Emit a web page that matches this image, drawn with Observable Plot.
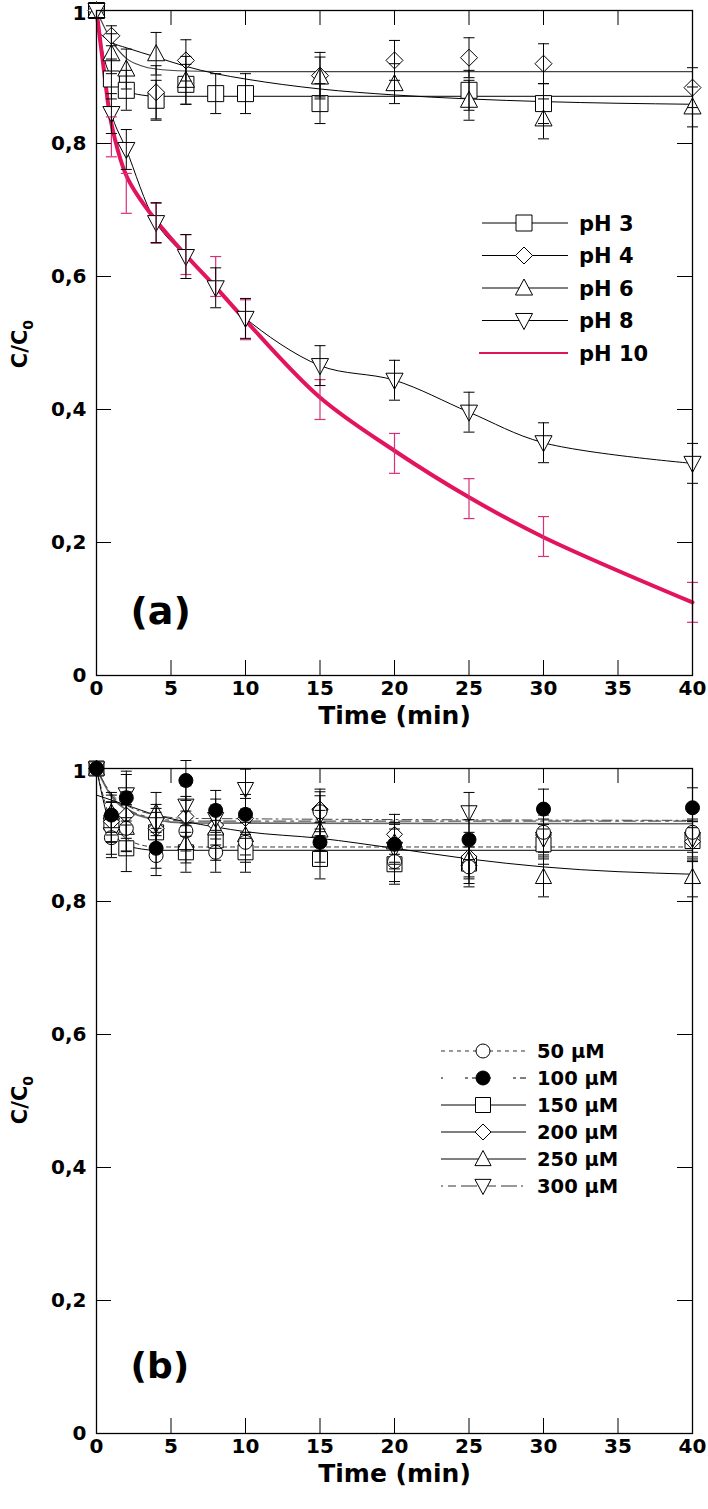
<!DOCTYPE html>
<html><head><meta charset="utf-8">
<script src="https://cdn.jsdelivr.net/npm/d3@7"></script>
<script src="https://cdn.jsdelivr.net/npm/@observablehq/plot@0.6"></script>
<style>
body{margin:0;background:#fff;}
#wrap{position:relative;width:708px;height:1509px;overflow:hidden;font-family:"DejaVu Sans",sans-serif;}
.panel{position:absolute;left:0;}
.ylab{position:absolute;transform:translate(-50%,-50%) rotate(-90deg);font-weight:bold;font-size:21px;white-space:nowrap;}
.ylab sub{font-size:14px;}
.leg{position:absolute;left:0;top:0;}
</style></head><body><div id="wrap"></div><script>
// ---------- shared axes ----------
const xTicks = [0,5,10,15,20,25,30,35,40];
const yTicks = [0,0.2,0.4,0.6,0.8,1];
const yTickLabels = ["0","0,2","0,4","0,6","0,8","1"];

// ---------- panel (a): pH ----------
const pH3_t = [0,1,2,4,6,8,10,15,25,30];
const pH3_c = [1,0.897,0.88,0.865,0.889,0.875,0.875,0.86,0.88,0.86];
const pH3_e = [0,0.03,0.03,0.03,0.03,0.03,0.03,0.03,0.03,0.03];
const pH4_t = [0,1,4,6,15,20,25,30,40];
const pH4_c = [1,0.962,0.877,0.925,0.902,0.925,0.929,0.92,0.884];
const pH4_e = [0,0.015,0.04,0.031,0.035,0.03,0.03,0.03,0.03];
const pH6_t = [0,1,2,4,6,15,20,25,30,40];
const pH6_c = [1,0.935,0.912,0.935,0.895,0.9,0.89,0.865,0.837,0.855];
const pH6_e = [0,0.03,0.03,0.032,0.036,0.03,0.03,0.03,0.03,0.03];
const pH8_t = [0,1,2,4,6,8,10,15,20,25,30,40];
const pH8_c = [1,0.845,0.791,0.681,0.630,0.583,0.537,0.466,0.444,0.396,0.350,0.319];
const pH8_e = [0,0.03,0.03,0.03,0.033,0.03,0.03,0.03,0.03,0.03,0.03,0.03];
const pH10_t = [1,2,4,6,8,10,15,20,25,30,40];
const pH10_c = [0.81,0.725,0.68,0.633,0.6,0.535,0.415,0.334,0.266,0.209,0.11];
const pH10_e = [0.03,0.03,0.03,0.03,0.03,0.03,0.03,0.03,0.03,0.03,0.03];
// fitted curves
const fit3_t = [0,0.5,1,1.5,2,3,4,40];
const fit3_c = [1,0.93,0.9,0.886,0.879,0.873,0.871,0.871];
const fit4_t = [0,1,2,3,4,6,10,40];
const fit4_c = [1,0.955,0.928,0.917,0.912,0.909,0.908,0.908];
const fit6_t = [0,1,2,4,6,8,10,15,20,25,30,40];
const fit6_c = [0.97,0.952,0.944,0.93,0.916,0.905,0.897,0.882,0.873,0.867,0.863,0.859];
const fit10_t = [0,0.5,1,2,3,4,6,8,10,15,20,25,30,40];
const fit10_c = [1,0.91,0.83,0.752,0.714,0.684,0.632,0.584,0.534,0.418,0.338,0.268,0.208,0.11];

// ---------- panel (b): concentration ----------
const concT = [0,1,2,4,6,8,10,15,20,25,30,40];
const c50  = [1,0.896,0.91,0.869,0.906,0.874,0.889,0.935,0.86,0.852,0.904,0.904];
const c100 = [1,0.93,0.956,0.88,0.982,0.937,0.931,0.889,0.886,0.893,0.939,0.941];
const c150 = [1,0.919,0.88,0.904,0.874,0.892,0.874,0.864,0.856,0.857,0.886,0.891];
const c200 = [1,0.92,0.93,0.91,0.928,0.915,0.925,0.939,0.901,0.867,0.9,0.89];
const c250 = [1,0.934,0.911,0.934,0.888,0.91,0.9,0.907,0.889,0.864,0.837,0.837];
const c300 = [1,0.901,0.961,0.916,0.944,0.924,0.969,0.929,0.879,0.934,0.894,0.894];
const concErr = [0,0.03,0.035,0.03,0.03,0.03,0.03,0.03,0.03,0.03,0.03,0.03];
const fb50_t = [0,1,2,3,4,40];   const fb50_c = [1,0.92,0.895,0.885,0.882,0.882];
const fb100_t = [0,1,2,4,6,40];  const fb100_c = [1,0.96,0.94,0.925,0.921,0.921];
const fb150_t = [0,1,2,3,4,40];  const fb150_c = [1,0.91,0.885,0.879,0.877,0.877];
const fb200_t = [0,1,2,4,6,40];  const fb200_c = [1,0.958,0.938,0.923,0.918,0.917];
const fb250_t = [0,2,4,6,8,10,15,20,25,30,40];
const fb250_c = [0.96,0.945,0.93,0.92,0.912,0.905,0.895,0.88,0.864,0.852,0.841];
const fb300_t = [0,1,2,4,6,40];  const fb300_c = [1,0.962,0.945,0.93,0.925,0.922];

// ---------- helpers ----------
const FONT = '"DejaVu Sans", sans-serif';
const zip = (t, c, e) => t.map((v, i) => ({t: v, c: c[i], e: e ? e[i] : 0}));
const SYM = {
  square:{draw(ctx,s){const r=Math.sqrt(s/Math.PI); ctx.rect(-r,-r,2*r,2*r);}},
  diamond:{draw(ctx,s){const r=Math.sqrt(s/Math.PI); ctx.moveTo(0,-r);ctx.lineTo(r,0);ctx.lineTo(0,r);ctx.lineTo(-r,0);ctx.closePath();}},
  up:{draw(ctx,s){const r=Math.sqrt(s/Math.PI); ctx.moveTo(0,-r);ctx.lineTo(0.95*r,0.78*r);ctx.lineTo(-0.95*r,0.78*r);ctx.closePath();}},
  down:{draw(ctx,s){const r=Math.sqrt(s/Math.PI); ctx.moveTo(0,r);ctx.lineTo(0.95*r,-0.78*r);ctx.lineTo(-0.95*r,-0.78*r);ctx.closePath();}},
  circle:"circle"
};
const cap = {draw(ctx,s){const r=Math.sqrt(s/Math.PI); ctx.moveTo(-r,0); ctx.lineTo(r,0);}};
function errMarks(rows, stroke, w){
  const d = rows.filter(r => r.e > 0);
  return [
    Plot.ruleX(d, {x:"t", y1: r => r.c - r.e, y2: r => r.c + r.e, stroke, strokeWidth: w}),
    Plot.dot(d, {x:"t", y: r => r.c - r.e, symbol: cap, r: 5.5, stroke, strokeWidth: w}),
    Plot.dot(d, {x:"t", y: r => r.c + r.e, symbol: cap, r: 5.5, stroke, strokeWidth: w})
  ];
}
function markerMarks(rows, sym, r, fill){
  return Plot.dot(rows, {x:"t", y:"c", symbol: SYM[sym], r, fill: fill || "white", stroke:"black", strokeWidth: 1});
}
const PW = 708 - 96 - 16, PH = 665;
const yFmt = d => yTickLabels[yTicks.indexOf(d)];
function frameMarks(label, labelSize, labelDy){
  return [
    Plot.frame({stroke:"black", strokeWidth:1.3}),
    Plot.tickX(xTicks, {x: d => d, insetTop: PH - 15, stroke:"black"}),
    Plot.tickX(xTicks, {x: d => d, insetBottom: PH - 15, stroke:"black"}),
    Plot.tickY(yTicks, {y: d => d, insetRight: PW - 15, stroke:"black"}),
    Plot.tickY(yTicks, {y: d => d, insetLeft: PW - 15, stroke:"black"}),
    Plot.axisX(xTicks, {tickSize: 0, tickPadding: 5, label: null, fontSize: 20, fontWeight:"bold"}),
    Plot.axisY(yTicks.slice(0, -1), {tickSize: 0, tickPadding: 10, label: null, tickFormat: yFmt, fontSize: 20, fontWeight:"bold"}),
    Plot.axisY(yTicks.slice(-1), {tickSize: 0, tickPadding: 10, label: null, tickFormat: yFmt, fontSize: 20, fontWeight:"bold", dy: 3}),
    Plot.text(["Time (min)"], {frameAnchor:"bottom", dy: 48, fontSize: 25, fontWeight:"bold", fill:"black"}),
    Plot.text([label], {frameAnchor:"bottom-left", dx: 34, dy: labelDy, fontSize: labelSize, fontWeight:"bold", fill:"black", lineAnchor:"bottom", textAnchor:"start"})
  ];
}
function makePlot(height, marginTop, marks){
  return Plot.plot({
    width: 708, height, marginLeft: 96, marginRight: 16, marginTop, marginBottom: height - marginTop - PH,
    x: {domain:[0,40]}, y: {domain:[0,1]},
    style: {fontFamily: FONT, color:"black", background:"white", overflow:"visible"},
    marks
  });
}
const wrap = document.getElementById("wrap");

// ---------- panel a ----------
const PINK = "#e3145e";
const r3 = zip(pH3_t,pH3_c,pH3_e), r4 = zip(pH4_t,pH4_c,pH4_e), r6 = zip(pH6_t,pH6_c,pH6_e),
      r8 = zip(pH8_t,pH8_c,pH8_e), r10 = zip(pH10_t,pH10_c,pH10_e);
const plotA = makePlot(740, 10, [
  Plot.line(zip(fit3_t,fit3_c), {x:"t", y:"c", curve:"monotone-x", stroke:"black", strokeWidth:1}),
  Plot.line(zip(fit4_t,fit4_c), {x:"t", y:"c", curve:"monotone-x", stroke:"#444", strokeWidth:1.2}),
  Plot.line(zip(fit6_t,fit6_c), {x:"t", y:"c", curve:"monotone-x", stroke:"black", strokeWidth:1}),
  Plot.line(zip(pH8_t,pH8_c), {x:"t", y:"c", curve:"catmull-rom", stroke:"black", strokeWidth:1}),
  Plot.line(zip(fit10_t,fit10_c), {x:"t", y:"c", curve:"catmull-rom", stroke:PINK, strokeWidth:4}),
  markerMarks(r3,"square",8), markerMarks(r4,"diamond",8.5), markerMarks(r6,"up",9), markerMarks(r8,"down",9),
  ...errMarks(r10, "#d6307a", 1.2),
  ...errMarks(r3,"black",1), ...errMarks(r4,"black",1), ...errMarks(r6,"black",1), ...errMarks(r8,"black",1),
  ...frameMarks("(a)", 38, -52)
]);
plotA.classList.add("panel"); plotA.style.top = "0px";
wrap.appendChild(plotA);

// ---------- panel b ----------
const b50 = zip(concT,c50,concErr), b100 = zip(concT,c100,concErr), b150 = zip(concT,c150,concErr),
      b200 = zip(concT,c200,concErr), b250 = zip(concT,c250,concErr), b300 = zip(concT,c300,concErr);
const STY = {
  s50:{stroke:"#333", strokeWidth:1, strokeDasharray:"4,4"},
  s100:{stroke:"#555", strokeWidth:1.3, strokeDasharray:"12,5,3,5"},
  s150:{stroke:"black", strokeWidth:1},
  s200:{stroke:"#666", strokeWidth:1.6},
  s250:{stroke:"black", strokeWidth:1},
  s300:{stroke:"#444", strokeWidth:1, strokeDasharray:"2,4,10,4"}
};
const plotB = makePlot(769, 28, [
  Plot.line(zip(fb50_t,fb50_c), {x:"t", y:"c", curve:"monotone-x", ...STY.s50}),
  Plot.line(zip(fb100_t,fb100_c), {x:"t", y:"c", curve:"monotone-x", ...STY.s100}),
  Plot.line(zip(fb150_t,fb150_c), {x:"t", y:"c", curve:"monotone-x", ...STY.s150}),
  Plot.line(zip(fb200_t,fb200_c), {x:"t", y:"c", curve:"monotone-x", ...STY.s200}),
  Plot.line(zip(fb250_t,fb250_c), {x:"t", y:"c", curve:"monotone-x", ...STY.s250}),
  Plot.line(zip(fb300_t,fb300_c), {x:"t", y:"c", curve:"monotone-x", ...STY.s300}),
  markerMarks(b150,"square",7.5), markerMarks(b200,"diamond",8), markerMarks(b250,"up",8.5),
  markerMarks(b300,"down",8.5), markerMarks(b50,"circle",7), markerMarks(b100,"circle",7,"black"),
  ...errMarks(b50,"black",1), ...errMarks(b100,"black",1), ...errMarks(b150,"black",1),
  ...errMarks(b200,"black",1), ...errMarks(b250,"black",1), ...errMarks(b300,"black",1),
  ...frameMarks("(b)", 36, -56)
]);
plotB.classList.add("panel"); plotB.style.top = "740px";
wrap.appendChild(plotB);

// ---------- y labels ----------
[[22,344],[22,1100]].forEach(([x,y]) => {
  const d = document.createElement("div");
  d.className = "ylab"; d.style.left = x+"px"; d.style.top = y+"px";
  d.innerHTML = "C/C<sub>0</sub>";
  wrap.appendChild(d);
});

// ---------- legends ----------
const legA = [
  {name:"pH 3", sym:"square", r:8, line:{stroke:"black", width:1}},
  {name:"pH 4", sym:"diamond", r:8.5, line:{stroke:"black", width:1}},
  {name:"pH 6", sym:"up", r:9, line:{stroke:"black", width:1}},
  {name:"pH 8", sym:"down", r:9, line:{stroke:"black", width:1}},
  {name:"pH 10", sym:null, line:{stroke:PINK, width:2}}
];
const legB = [
  {name:"50 µM", sym:"circle", r:7, line:{stroke:"#333", width:1, dash:"4,4"}},
  {name:"100 µM", sym:"circle", r:7, fill:"black", line:{stroke:"#555", width:1.3, dash:"2,22,3,4,12,5"}},
  {name:"150 µM", sym:"square", r:7.5, line:{stroke:"black", width:1}},
  {name:"200 µM", sym:"diamond", r:8, line:{stroke:"black", width:1}},
  {name:"250 µM", sym:"up", r:8.5, line:{stroke:"black", width:1}},
  {name:"300 µM", sym:"down", r:8.5, line:{stroke:"#333", width:1, dash:"2,5,8,5,16,4"}}
];
function legend(items, x0, x1, xm, xt, y0, dy, fs){
  const svg = d3.create("svg").attr("class","leg").attr("width",708).attr("height",1509)
    .style("position","absolute").style("left","0").style("top","0").style("pointer-events","none");
  items.forEach((it, i) => {
    const y = y0 + i*dy;
    svg.append("line").attr("x1", it.sym ? x0 : x0-3).attr("x2", x1).attr("y1", y).attr("y2", y)
      .attr("stroke", it.line.stroke).attr("stroke-width", it.line.width).attr("stroke-dasharray", it.line.dash || null);
    if (it.sym) {
      const s = SYM[it.sym] === "circle" ? d3.symbolCircle : SYM[it.sym];
      svg.append("path").attr("d", d3.symbol(s, it.r*it.r*Math.PI)()).attr("transform",`translate(${xm},${y})`)
        .attr("fill", it.fill || "white").attr("stroke","black");
    }
    svg.append("text").attr("x", xt).attr("y", y).attr("dy","0.36em").text(it.name)
      .attr("font-family", FONT).attr("font-weight","bold").attr("font-size", fs);
  });
  wrap.appendChild(svg.node());
}
legend(legA, 482, 568, 524, 579, 223, 32.5, 21);
legend(legB, 441, 526, 483, 537, 1051, 27, 19.5);
</script></body></html>
